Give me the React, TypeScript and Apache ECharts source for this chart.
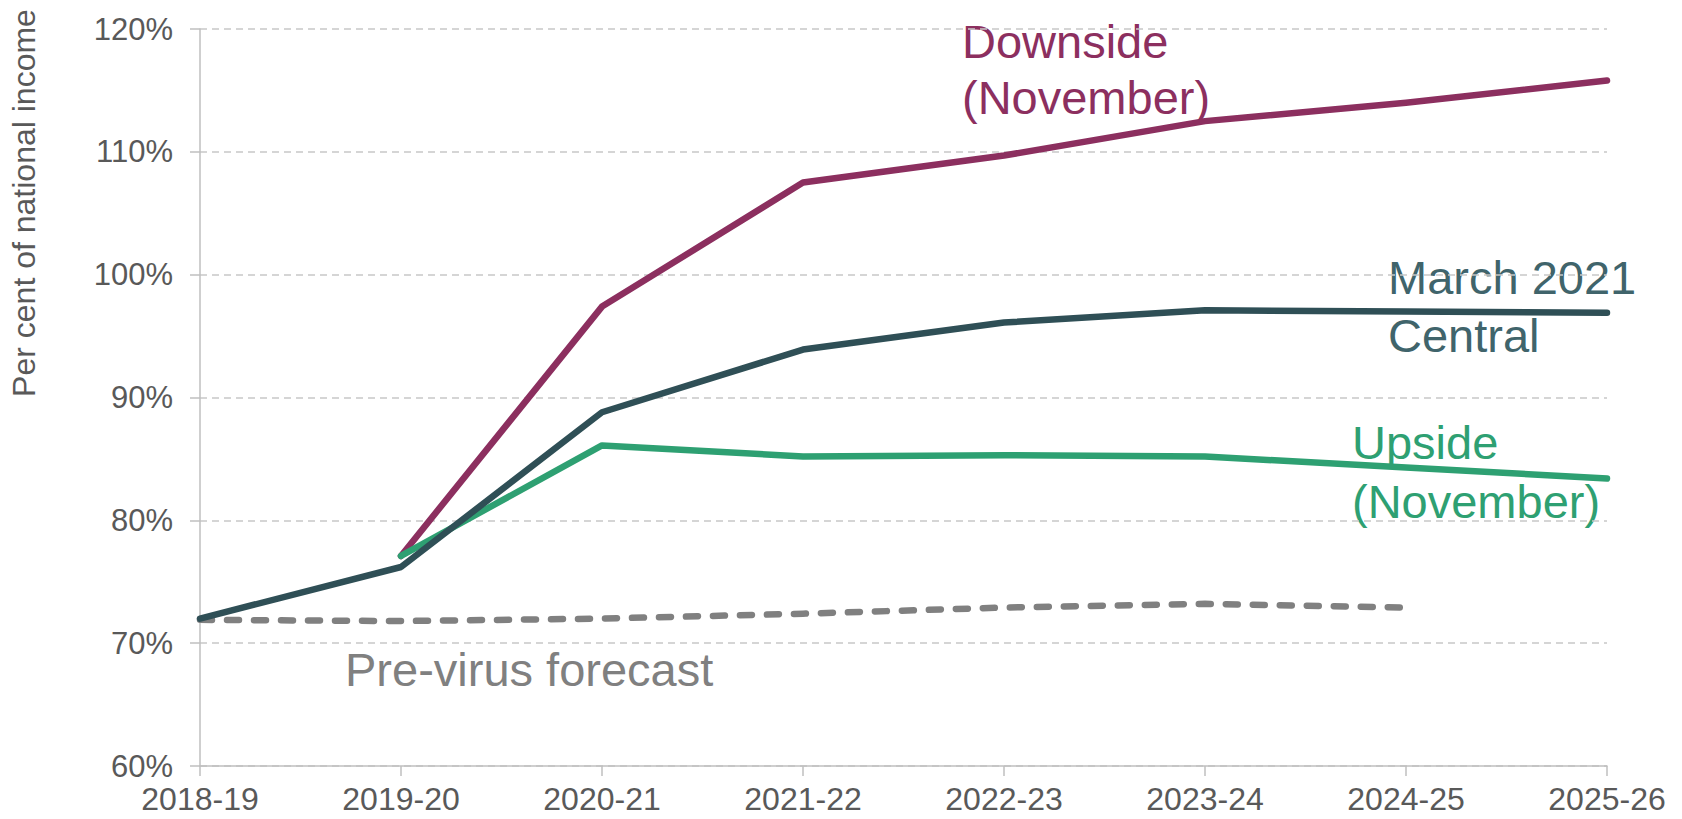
import React, { useEffect, useRef } from "react";
import * as echarts from "echarts";

// Public sector net debt scenarios, per cent of national income
const years = ["2018-19", "2019-20", "2020-21", "2021-22", "2022-23", "2023-24", "2024-25", "2025-26"];
const preVirus = [71.9, 71.8, 72.0, 72.4, 72.9, 73.2, 72.9, null];
const downside = [null, 77.1, 97.4, 107.5, 109.7, 112.5, 114.0, 115.8];
const upside = [null, 77.1, 86.1, 85.2, 85.3, 85.2, 84.3, 83.4];
const central = [72.0, 76.2, 88.8, 93.9, 96.1, 97.1, 97.0, 96.9];
const yTicks = { min: 60, max: 120, step: 10 };

const FONT = "'Liberation Sans', Arial, Helvetica, sans-serif";
const AXIS_TEXT = "#595959";
const GRID_LINE = "#C8C8C8";
const AXIS_LINE = "#BFBFBF";

const C_DOWN = "#8C2F5F";
const C_UP = "#2EA072";
const C_CENTRAL = "#2F4F56";
const C_CENTRAL_TEXT = "#40646B";
const C_PRE = "#808080";

function label(text: string, x: number, y: number, fill: string) {
  return {
    type: "text",
    x,
    y,
    silent: true,
    style: {
      text,
      fill,
      font: `47px ${FONT}`,
      align: "left",
      verticalAlign: "middle",
    },
  };
}

export default function App() {
  const ref = useRef<HTMLDivElement>(null);

  useEffect(() => {
    if (!ref.current) return;
    const chart = echarts.init(ref.current, undefined, { renderer: "svg" });

    const line = (name: string, data: (number | null)[], color: string, z: number, dashed = false) => ({
      name,
      type: "line",
      data,
      z,
      symbol: "none",
      connectNulls: false,
      lineStyle: {
        color,
        width: 6.5,
        type: dashed ? [12, 15] : "solid",
        cap: "round",
        join: "round",
      },
      emphasis: { disabled: true },
    });

    chart.setOption({
      animation: false,
      grid: { left: 200, right: 75, top: 29, bottom: 53, containLabel: false },
      xAxis: {
        type: "category",
        data: years,
        boundaryGap: false,
        axisLine: { show: true, lineStyle: { color: AXIS_LINE, width: 1.5 } },
        axisTick: { show: true, alignWithLabel: true, length: 10, lineStyle: { color: AXIS_LINE, width: 1.5 } },
        axisLabel: { color: AXIS_TEXT, fontFamily: FONT, fontSize: 32, lineHeight: 32, margin: 17, interval: 0 },
        splitLine: { show: false },
      },
      yAxis: {
        type: "value",
        min: yTicks.min,
        max: yTicks.max,
        interval: yTicks.step,
        axisLine: { show: true, lineStyle: { color: AXIS_LINE, width: 1.5 } },
        axisTick: { show: true, length: 10, lineStyle: { color: AXIS_LINE, width: 1.5 } },
        axisLabel: { color: AXIS_TEXT, fontFamily: FONT, fontSize: 31, margin: 27, formatter: "{value}%" },
        splitLine: { show: true, lineStyle: { color: GRID_LINE, width: 1.5, type: [7, 5] } },
      },
      series: [
        line("Pre-virus forecast", preVirus, C_PRE, 2, true),
        line("Downside (November)", downside, C_DOWN, 3),
        line("Upside (November)", upside, C_UP, 4),
        line("March 2021 Central", central, C_CENTRAL, 5),
      ],
      graphic: [
        {
          type: "text",
          x: 24,
          y: 203,
          rotation: Math.PI / 2,
          silent: true,
          style: {
            text: "Per cent of national income",
            fill: AXIS_TEXT,
            font: `32px ${FONT}`,
            align: "center",
            verticalAlign: "middle",
          },
        },
        label("Downside", 962, 41, C_DOWN),
        label("(November)", 962, 97, C_DOWN),
        label("March 2021", 1388, 277, C_CENTRAL_TEXT),
        label("Central", 1388, 335, C_CENTRAL_TEXT),
        label("Upside", 1352, 442, C_UP),
        label("(November)", 1352, 501, C_UP),
        label("Pre-virus forecast", 345, 669, C_PRE),
      ],
    });

    return () => chart.dispose();
  }, []);

  return (
    <div
      ref={ref}
      style={{ position: "fixed", left: 0, top: 0, width: 1682, height: 819, background: "#ffffff" }}
    />
  );
}
